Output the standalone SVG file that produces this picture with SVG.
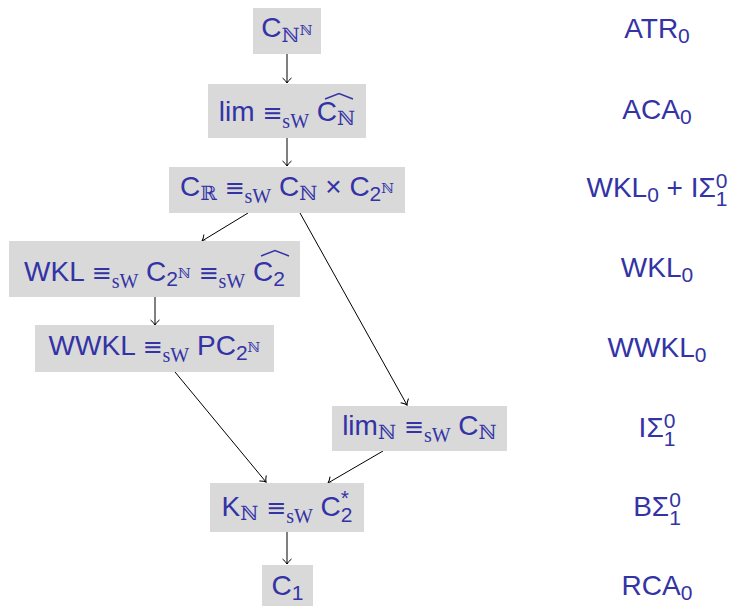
<svg xmlns="http://www.w3.org/2000/svg" width="735" height="606" viewBox="0 0 735 606">
  <style>
    .box { fill: #d9d9d9; }
    text { font-family: "Liberation Sans", "DejaVu Sans", sans-serif; font-size: 28px; fill: #3333a6; }
    .c { text-anchor: middle; }
    .bb { font-family: "DejaVu Serif", "DejaVu Sans", serif; font-size: 20px; }
    .bbs { font-family: "DejaVu Serif", "DejaVu Sans", serif; font-size: 14px; }
    .sub { font-size: 21px; }
    .eq { font-family: "DejaVu Sans", sans-serif; font-size: 24px; }
    .sw { font-family: "Liberation Serif", serif; font-size: 20px; }
    .hat { fill: none; stroke: #3333a6; stroke-width: 1.4; stroke-linejoin: miter; }
    .edge { stroke: #000; stroke-width: 1; fill: none; marker-end: url(#arr); }
  </style>
  <defs>
    <marker id="arr" markerUnits="userSpaceOnUse" markerWidth="12" markerHeight="12" refX="0" refY="0" viewBox="-6 -6 12 12" orient="auto">
      <path d="M-5,-4.5 Q-2,-0.8 0,0 Q-2,0.8 -5,4.5" fill="none" stroke="#000" stroke-width="1"/>
    </marker>
  </defs>

  <!-- reductions between problems -->
  <g id="connectors">
    <line class="edge" x1="287" y1="54" x2="287" y2="83"/>
    <line class="edge" x1="287" y1="138" x2="287" y2="166"/>
    <line class="edge" x1="248" y1="213" x2="202" y2="241"/>
    <line class="edge" x1="300" y1="213" x2="407" y2="405"/>
    <line class="edge" x1="155" y1="297" x2="155" y2="325"/>
    <line class="edge" x1="175" y1="372" x2="266" y2="482"/>
    <line class="edge" x1="383" y1="451" x2="328" y2="483"/>
    <line class="edge" x1="287" y1="532" x2="287" y2="564"/>
  </g>

  <g id="n-cnn">
    <rect class="box" x="253" y="8" width="68" height="46"/>
    <text class="c" x="287" y="37">C<tspan class="bb" dy="5">ℕ</tspan><tspan class="bbs" dy="-7">ℕ</tspan></text>
  </g>

  <g id="n-lim">
    <rect class="box" x="208" y="84" width="158" height="54"/>
    <text class="c" x="287" y="121">lim <tspan class="eq">≡</tspan><tspan class="sw" dy="7">sW</tspan><tspan dy="-7"> C</tspan><tspan class="bb" dy="4">ℕ</tspan></text>
    <path class="hat" d="M325,99 L339,93.5 L353,99"/>
  </g>

  <g id="n-cr">
    <rect class="box" x="169" y="167" width="236" height="46"/>
    <text class="c" x="287" y="196">C<tspan class="bb" dy="4">ℝ</tspan><tspan class="eq" dy="-4"> ≡</tspan><tspan class="sw" dy="7">sW</tspan><tspan dy="-7"> C</tspan><tspan class="bb" dy="4">ℕ</tspan><tspan dy="-4"> × C</tspan><tspan class="sub" dy="5">2</tspan><tspan class="bbs" dy="-8">ℕ</tspan></text>
  </g>

  <g id="n-wkl">
    <rect class="box" x="9" y="241" width="291" height="56"/>
    <text class="c" x="154.5" y="281">WKL <tspan class="eq">≡</tspan><tspan class="sw" dy="7">sW</tspan><tspan dy="-7"> C</tspan><tspan class="sub" dy="5">2</tspan><tspan class="bbs" dy="-8">ℕ</tspan><tspan class="eq" dy="3"> ≡</tspan><tspan class="sw" dy="7">sW</tspan><tspan dy="-7"> C</tspan><tspan class="sub" dy="5">2</tspan></text>
    <path class="hat" d="M261,256 L275,250.5 L289,256"/>
  </g>

  <g id="n-wwkl">
    <rect class="box" x="35" y="325" width="239" height="47"/>
    <text class="c" x="154.5" y="355">WWKL <tspan class="eq">≡</tspan><tspan class="sw" dy="7">sW</tspan><tspan dy="-7"> PC</tspan><tspan class="sub" dy="5">2</tspan><tspan class="bbs" dy="-8">ℕ</tspan></text>
  </g>

  <g id="n-limn">
    <rect class="box" x="332" y="406" width="175" height="45"/>
    <text class="c" x="419.5" y="435">lim<tspan class="bb" dy="4">ℕ</tspan><tspan class="eq" dy="-4"> ≡</tspan><tspan class="sw" dy="7">sW</tspan><tspan dy="-7"> C</tspan><tspan class="bb" dy="4">ℕ</tspan></text>
  </g>

  <g id="n-kn">
    <rect class="box" x="210" y="483" width="154" height="49"/>
    <text class="c" x="287" y="516">K<tspan class="bb" dy="4">ℕ</tspan><tspan class="eq" dy="-4"> ≡</tspan><tspan class="sw" dy="7">sW</tspan><tspan dy="-7"> C</tspan><tspan class="sub" dy="6">2</tspan><tspan class="sub" dx="-11.7" dy="-17">*</tspan></text>
  </g>

  <g id="n-c1">
    <rect class="box" x="262" y="565" width="51" height="41"/>
    <text class="c" x="287.5" y="595">C<tspan class="sub" dy="5">1</tspan></text>
  </g>

  <!-- corresponding subsystems of second-order arithmetic -->
  <g id="systems">
    <text class="c" x="657" y="38">ATR<tspan class="sub" dy="5">0</tspan></text>
    <text class="c" x="657" y="119">ACA<tspan class="sub" dy="5">0</tspan></text>
    <text class="c" x="657" y="197">WKL<tspan class="sub" dy="5">0</tspan><tspan dy="-5"> + IΣ</tspan><tspan class="sub" dy="-9">0</tspan><tspan class="sub" dx="-11.7" dy="18">1</tspan></text>
    <text class="c" x="657" y="277">WKL<tspan class="sub" dy="5">0</tspan></text>
    <text class="c" x="657" y="357">WWKL<tspan class="sub" dy="5">0</tspan></text>
    <text class="c" x="657" y="437">IΣ<tspan class="sub" dy="-9">0</tspan><tspan class="sub" dx="-11.7" dy="18">1</tspan></text>
    <text class="c" x="657" y="516">BΣ<tspan class="sub" dy="-9">0</tspan><tspan class="sub" dx="-11.7" dy="18">1</tspan></text>
    <text class="c" x="657" y="595">RCA<tspan class="sub" dy="5">0</tspan></text>
  </g>
</svg>
